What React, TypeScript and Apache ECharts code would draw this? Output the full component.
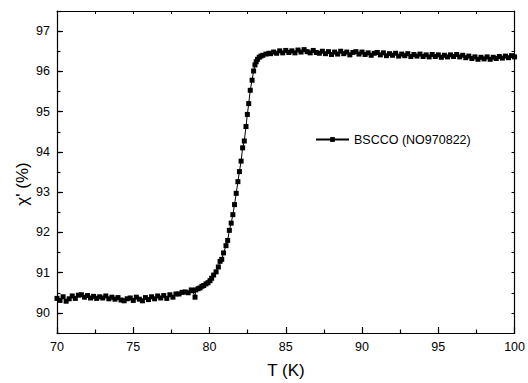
import React, { useEffect, useRef } from "react";
import * as echarts from "echarts";

const seriesName = "BSCCO (NO970822)";
const xTitle = "T (K)";
const yTitle = "χ' (%)";
const xTicks = [70, 75, 80, 85, 90, 95, 100];
const yTicks = [90, 91, 92, 93, 94, 95, 96, 97];

const temperature = [
  70.0, 70.2, 70.4, 70.6, 70.8, 71.0, 71.2, 71.4, 71.6, 71.8,
  72.0, 72.2, 72.4, 72.6, 72.8, 73.0, 73.2, 73.4, 73.6, 73.8,
  74.0, 74.2, 74.4, 74.6, 74.8, 75.0, 75.2, 75.4, 75.6, 75.8,
  76.0, 76.2, 76.4, 76.6, 76.8, 77.0, 77.2, 77.4, 77.6, 77.8,
  78.0, 78.2, 78.4, 78.6, 78.8, 78.9, 79.05,
  79.1, 79.25, 79.38, 79.5, 79.62, 79.77, 79.9, 80.03, 80.14, 80.27,
  80.43, 80.58, 80.69, 80.8, 80.92, 81.08, 81.19, 81.3, 81.42, 81.53,
  81.64, 81.75, 81.86, 81.96, 82.07, 82.17, 82.28, 82.39, 82.48, 82.57,
  82.67, 82.79, 82.89, 82.98, 83.06, 83.15, 83.26, 83.37, 83.5, 83.7, 83.9,
  84.0, 84.2, 84.4, 84.6, 84.8, 85.0, 85.2, 85.4, 85.6, 85.8,
  86.0, 86.2, 86.4, 86.6, 86.8, 87.0, 87.2, 87.4, 87.6, 87.8,
  88.0, 88.2, 88.4, 88.6, 88.8, 89.0, 89.2, 89.4, 89.6, 89.8,
  90.0, 90.2, 90.4, 90.6, 90.8, 91.0, 91.2, 91.4, 91.6, 91.8,
  92.0, 92.2, 92.4, 92.6, 92.8, 93.0, 93.2, 93.4, 93.6, 93.8,
  94.0, 94.2, 94.4, 94.6, 94.8, 95.0, 95.2, 95.4, 95.6, 95.8,
  96.0, 96.2, 96.4, 96.6, 96.8, 97.0, 97.2, 97.4, 97.6, 97.8,
  98.0, 98.2, 98.4, 98.6, 98.8, 99.0, 99.2, 99.4, 99.6, 99.8, 100.0,
];

const chi = [
  90.36, 90.31, 90.40, 90.29, 90.35, 90.42, 90.36, 90.44, 90.45, 90.39,
  90.43, 90.37, 90.41, 90.36, 90.40, 90.37, 90.42, 90.35, 90.39, 90.34,
  90.38, 90.32, 90.30, 90.35, 90.37, 90.31, 90.39, 90.34, 90.30, 90.38,
  90.33, 90.40, 90.35, 90.42, 90.37, 90.43, 90.36, 90.45, 90.39, 90.47,
  90.47, 90.51, 90.52, 90.50, 90.57, 90.55, 90.39,
  90.57, 90.60, 90.62, 90.66, 90.68, 90.72, 90.75, 90.80, 90.86, 90.94,
  91.02, 91.14, 91.28, 91.33, 91.49, 91.67, 91.80, 92.05, 92.23, 92.44,
  92.69, 92.97, 93.26, 93.51, 93.77, 94.10, 94.27, 94.63, 94.93, 95.20,
  95.53, 95.78, 96.01, 96.16, 96.24, 96.30, 96.35, 96.38, 96.40, 96.43, 96.45,
  96.44, 96.48, 96.45, 96.51, 96.46, 96.52, 96.47, 96.51, 96.46, 96.53,
  96.48, 96.54, 96.49, 96.46, 96.52, 96.47, 96.45, 96.50, 96.44, 96.49,
  96.42, 96.48, 96.43, 96.50, 96.44, 96.48, 96.41, 96.47, 96.49, 96.43,
  96.48, 96.42, 96.46, 96.40, 96.45, 96.47, 96.41, 96.46, 96.39, 96.44,
  96.40, 96.45, 96.38, 96.43, 96.39, 96.44, 96.37, 96.42, 96.38, 96.43,
  96.37, 96.41, 96.36, 96.42, 96.37, 96.41, 96.35, 96.40, 96.36, 96.41,
  96.37, 96.42, 96.36, 96.40, 96.34, 96.38, 96.32, 96.36, 96.30, 96.35,
  96.31, 96.36, 96.30, 96.35, 96.32, 96.37, 96.33, 96.38, 96.34, 96.39, 96.36,
];

const FONT = "'Liberation Sans', Arial, sans-serif";

export default function App() {
  const ref = useRef<HTMLDivElement>(null);
  useEffect(() => {
    if (!ref.current) return;
    const chart = echarts.init(ref.current, null, { renderer: "svg" });
    const data = temperature.map((t, i) => [t, chi[i]]);
    const axisLine = { show: true, lineStyle: { color: "#000", width: 1.2 } };
    chart.setOption({
      animation: false,
      backgroundColor: "#fff",
      grid: { left: 57, right: 13, top: 11, bottom: 50, containLabel: false },
      legend: {
        data: [seriesName],
        left: 315,
        top: 133,
        padding: 0,
        itemWidth: 33,
        itemHeight: 6,
        itemGap: 5,
        textStyle: { fontFamily: FONT, fontSize: 12.5, color: "#000" },
      },
      xAxis: [
        {
          type: "value",
          min: 70,
          max: 100,
          interval: 5,
          position: "bottom",
          axisLine,
          axisTick: { show: true, inside: true, length: 6, lineStyle: { color: "#000", width: 1.2 } },
          minorTick: { show: true, splitNumber: 2, length: 3.5, lineStyle: { color: "#000", width: 1.2 } },
          axisLabel: {
            show: true,
            margin: 7,
            fontFamily: FONT,
            fontSize: 12.5,
            color: "#000",
            customValues: xTicks,
          },
          splitLine: { show: false },
        },
        {
          type: "value",
          min: 70,
          max: 100,
          interval: 2.5,
          position: "top",
          axisLine,
          axisTick: { show: true, inside: true, length: 3, lineStyle: { color: "#000", width: 1 } },
          axisLabel: { show: false },
          splitLine: { show: false },
        },
      ],
      yAxis: [
        {
          type: "value",
          min: 89.5,
          max: 97.5,
          interval: 0.5,
          position: "left",
          axisLine,
          axisTick: {
            show: true,
            inside: true,
            length: 6,
            customValues: yTicks,
            lineStyle: { color: "#000", width: 1.2 },
          },
          axisLabel: {
            show: true,
            margin: 7,
            fontFamily: FONT,
            fontSize: 12.5,
            color: "#000",
            customValues: yTicks,
          },
          splitLine: { show: false },
        },
        {
          type: "value",
          min: 89.5,
          max: 97.5,
          interval: 0.5,
          position: "right",
          axisLine,
          axisTick: { show: true, inside: true, length: 3, lineStyle: { color: "#000", width: 1 } },
          axisLabel: { show: false },
          splitLine: { show: false },
        },
        {
          type: "value",
          min: 89.5,
          max: 97.5,
          interval: 0.5,
          position: "left",
          axisLine: { show: false },
          axisTick: { show: true, inside: true, length: 3.5, lineStyle: { color: "#000", width: 1.2 } },
          axisLabel: { show: false },
          splitLine: { show: false },
        },
      ],
      graphic: [
        {
          type: "text",
          x: 286,
          y: 370,
          style: {
            text: xTitle,
            font: `17px ${FONT}`,
            fill: "#000",
            textAlign: "center",
            textVerticalAlign: "middle",
          },
        },
        {
          type: "text",
          x: 22,
          y: 184,
          rotation: Math.PI / 2,
          style: {
            text: yTitle,
            font: `17px ${FONT}`,
            fill: "#000",
            textAlign: "center",
            textVerticalAlign: "middle",
          },
        },
      ],
      series: [
        {
          name: seriesName,
          type: "line",
          xAxisIndex: 0,
          yAxisIndex: 0,
          data,
          symbol: "rect",
          symbolSize: 5,
          showSymbol: true,
          showAllSymbol: true,
          lineStyle: { color: "#000", width: 1 },
          itemStyle: { color: "#000" },
          emphasis: { disabled: true },
        },
      ],
    });
    return () => chart.dispose();
  }, []);
  return (
    <div
      ref={ref}
      style={{ position: "absolute", left: 0, top: 0, width: 528, height: 383 }}
    />
  );
}
